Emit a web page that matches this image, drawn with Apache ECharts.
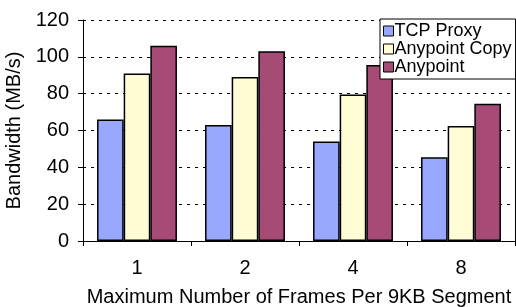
<!DOCTYPE html>
<html><head><meta charset="utf-8">
<script src="https://cdn.jsdelivr.net/npm/echarts@6/dist/echarts.min.js"></script>
<style>html,body{margin:0;padding:0;background:#fff}#c{width:516px;height:307px}</style>
</head><body><div id="c"></div>
<script>
var categories = ['1', '2', '4', '8'];
var tcpProxy = [66, 63, 54, 45.5];
var anypointCopy = [91, 89, 79.5, 62.5];
var anypoint = [106, 103, 95.5, 74.5];
var seriesNames = ['TCP Proxy', 'Anypoint Copy', 'Anypoint'];
var colors = ['#99A8FF', '#FFFCD6', '#A64B75'];
var yMin = 0, yMax = 120, yStep = 20;

var font = 'Liberation Sans, Arial, sans-serif';
var chart = echarts.init(document.getElementById('c'));
function bar(name, data, color) {
  return {
    name: name, type: 'bar', data: data, barGap: '0%', barCategoryGap: '26%',
    itemStyle: { color: color, borderColor: '#000', borderWidth: 1.5 }
  };
}
chart.setOption({
  animation: false,
  textStyle: { fontFamily: font, color: '#000' },
  grid: { left: 83, right: 1, top: 20, bottom: 66, containLabel: false, outerBoundsMode: 'none' },
  legend: {
    orient: 'vertical', left: 380, top: 19,
    padding: [3, 4, 3, 3], itemGap: 0,
    backgroundColor: '#fff', borderColor: '#000', borderWidth: 1,
    icon: 'rect', itemWidth: 10, itemHeight: 10,
    itemStyle: { borderColor: '#000', borderWidth: 1 },
    textStyle: { fontFamily: font, fontSize: 18, color: '#000', padding: [0, 0, 0, -4] },
    data: seriesNames
  },
  xAxis: {
    type: 'category', data: categories,
    name: 'Maximum Number of Frames Per 9KB Segment', nameLocation: 'middle', nameGap: 46,
    nameTextStyle: { fontFamily: font, fontSize: 20, color: '#000' },
    axisLine: { lineStyle: { color: '#000', width: 1 } },
    axisTick: { show: true, length: 5, lineStyle: { color: '#000' } },
    axisLabel: { fontFamily: font, fontSize: 20, color: '#000', margin: 17 }
  },
  yAxis: [{
    type: 'value', min: yMin, max: yMax, interval: yStep,
    name: 'Bandwidth (MB/s)', nameLocation: 'middle', nameGap: 55,
    nameTextStyle: { fontFamily: font, fontSize: 20, color: '#000' },
    axisLine: { show: true, lineStyle: { color: '#000', width: 1 } },
    axisTick: { show: true, length: 5, lineStyle: { color: '#000' } },
    axisLabel: { fontFamily: font, fontSize: 20, color: '#000', margin: 14 },
    splitLine: { show: true, lineStyle: { color: '#000', type: [3, 5], width: 1 } }
  }, {
    type: 'value', min: yMin, max: yMax, interval: yStep, position: 'right',
    axisLine: { show: true, lineStyle: { color: '#000', width: 1 } },
    axisTick: { show: false }, axisLabel: { show: false }, splitLine: { show: false }
  }],
  series: [
    bar(seriesNames[0], tcpProxy, colors[0]),
    bar(seriesNames[1], anypointCopy, colors[1]),
    bar(seriesNames[2], anypoint, colors[2])
  ]
});
</script></body></html>
